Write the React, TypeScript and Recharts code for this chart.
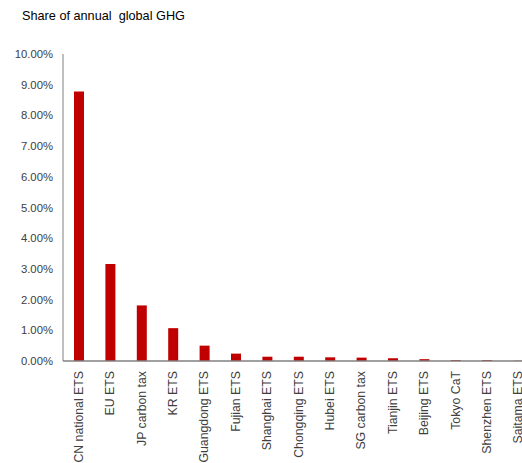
import { BarChart, Bar, XAxis, YAxis } from "recharts";

const schemes = [
  "CN national ETS",
  "EU ETS",
  "JP carbon tax",
  "KR ETS",
  "Guangdong ETS",
  "Fujian ETS",
  "Shanghai ETS",
  "Chongqing ETS",
  "Hubei ETS",
  "SG carbon tax",
  "Tianjin ETS",
  "Beijing ETS",
  "Tokyo CaT",
  "Shenzhen ETS",
  "Saitama ETS",
];

// share of annual global GHG emissions, in percent
const shares = [8.78, 3.16, 1.81, 1.07, 0.5, 0.24, 0.14, 0.14, 0.12, 0.11, 0.09, 0.06, 0.03, 0.03, 0.01];

const yTicks = [0, 1, 2, 3, 4, 5, 6, 7, 8, 9, 10];

const data = schemes.map((name, i) => ({ name, share: shares[i] }));

const FONT = "'Liberation Sans', Arial, sans-serif";
const TEXT = "#404040";

function CategoryTick({ x, y, payload }: any) {
  return (
    <text
      transform={`translate(${x},${y + 2}) rotate(-90)`}
      textAnchor="end"
      dominantBaseline="central"
      fill={TEXT}
      fontSize={12.3}
      fontFamily={FONT}
    >
      {payload.value}
    </text>
  );
}

export default function App() {
  return (
    <div
      style={{
        position: "fixed",
        left: 0,
        top: 0,
        width: 522,
        height: 463,
        overflow: "hidden",
        background: "#fff",
      }}
    >
      <div
        style={{
          position: "absolute",
          left: 22,
          top: 9,
          fontFamily: FONT,
          fontSize: 12.7,
          color: "#000",
          whiteSpace: "pre",
        }}
      >
        Share of annual  global GHG
      </div>
      <BarChart
        width={540}
        height={463}
        data={data}
        margin={{ top: 54, right: 6, bottom: 0, left: 0 }}
      >
        <XAxis
          dataKey="name"
          interval={0}
          height={102}
          tickLine={false}
          axisLine={{ stroke: "#808080", strokeWidth: 1.5 }}
          tick={<CategoryTick />}
        />
        <YAxis
          width={63}
          domain={[0, 10]}
          ticks={yTicks}
          interval={0}
          tickLine={false}
          tickMargin={4}
          axisLine={{ stroke: "#808080" }}
          tickFormatter={(v) => `${v.toFixed(2)}%`}
          tick={{ fill: TEXT, fontSize: 11.3, fontFamily: FONT }}
        />
        <Bar dataKey="share" fill="#C00000" barSize={10} isAnimationActive={false} />
      </BarChart>
    </div>
  );
}
